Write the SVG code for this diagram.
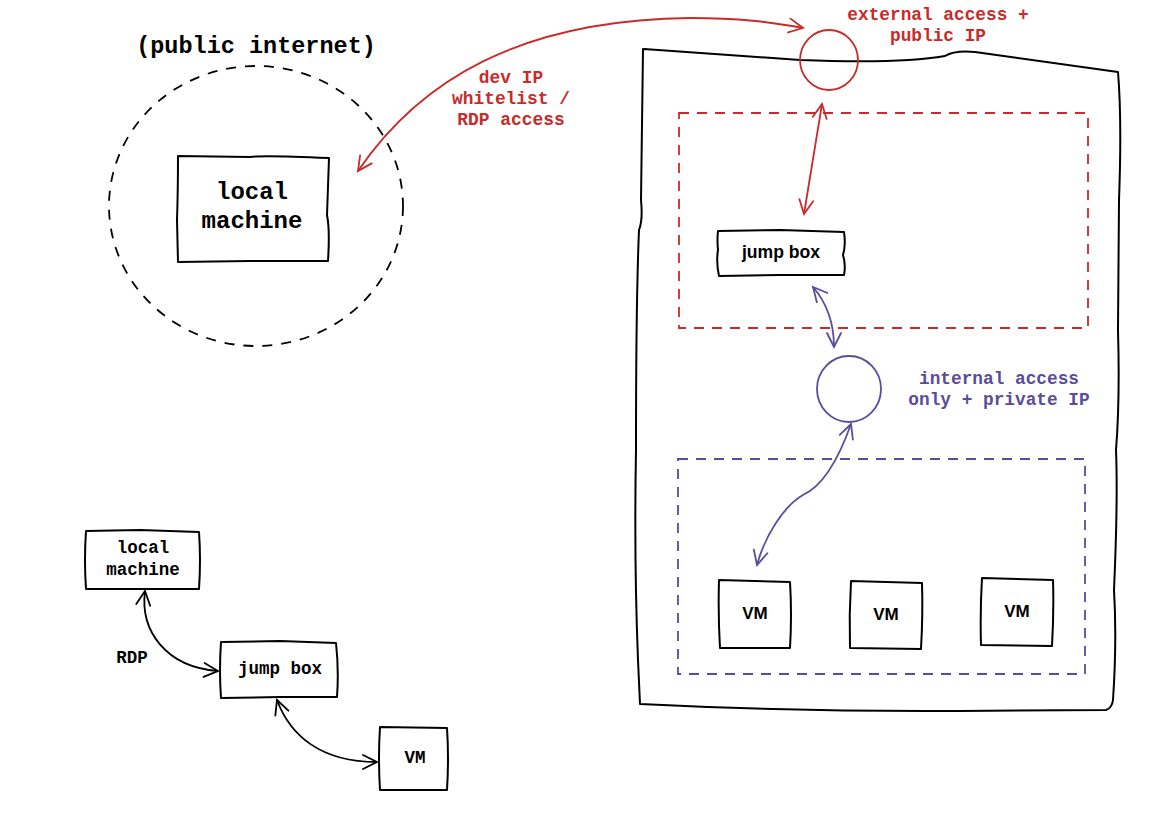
<svg xmlns="http://www.w3.org/2000/svg" width="1156" height="836" viewBox="0 0 1156 836">
<style>
.box{fill:none;stroke:#000;stroke-width:2;stroke-linejoin:round;stroke-linecap:round}
.mono{font-family:"Liberation Mono","Courier New",monospace;font-weight:bold;text-anchor:middle}
.sans{font-family:"Liberation Sans",Arial,sans-serif;font-weight:bold;text-anchor:middle;fill:#000}
.red{fill:#c92a2a}
.pur{fill:#5a4c9d}
.cred{fill:none;stroke:#c92a2a;stroke-width:1.8}
.cpur{fill:none;stroke:#5a4c9d;stroke-width:1.8}
.cblk{fill:none;stroke:#000;stroke-width:1.8}
</style>
<defs>
<marker id="mr" viewBox="0 0 20 20" refX="18" refY="10" markerWidth="20" markerHeight="20" markerUnits="userSpaceOnUse" orient="auto-start-reverse"><path d="M4,3 L18,10 L4,17" fill="none" stroke="#c92a2a" stroke-width="1.8" stroke-linecap="round"/></marker>
<marker id="mp" viewBox="0 0 20 20" refX="18" refY="10" markerWidth="20" markerHeight="20" markerUnits="userSpaceOnUse" orient="auto-start-reverse"><path d="M4,3 L18,10 L4,17" fill="none" stroke="#5a4c9d" stroke-width="1.8" stroke-linecap="round"/></marker>
<marker id="mk" viewBox="0 0 20 20" refX="18" refY="10" markerWidth="20" markerHeight="20" markerUnits="userSpaceOnUse" orient="auto-start-reverse"><path d="M4,3 L18,10 L4,17" fill="none" stroke="#000" stroke-width="1.8" stroke-linecap="round"/></marker>
</defs>
<rect width="1156" height="836" fill="#fff"/>

<g id="internet">
<ellipse cx="256" cy="206" rx="147" ry="140" fill="none" stroke="#000" stroke-width="1.8" stroke-dasharray="10 9"/>
<text class="mono" x="256" y="53" font-size="23.5">(public internet)</text>
</g>

<g id="local-machine">
<path class="box" d="M178,156 L250,157 Q262,155 329,158 L327,215 Q330,230 328,261 L250,261 L178,262 L177,220 Q178,190 178,156 Z"/>
<text class="mono" x="252" y="199" font-size="24">local</text>
<text class="mono" x="252" y="228" font-size="24">machine</text>
</g>

<g id="cloud">
<path class="box" d="M644,49 L800,60 Q900,64 945,56 Q955,50 975,52 L1118,72 Q1122,120 1119,200 L1118,330 Q1120,400 1116,450 Q1118,500 1114,590 Q1117,640 1113,700 Q1112,708 1106,710 L960,711 Q800,712 640,704 L638,660 Q634,560 636,450 Q636,300 639,230 Q643,220 641,200 L643,49 Z"/>
</g>

<g id="public-ip">
<ellipse cx="829" cy="60" rx="29" ry="30" fill="none" stroke="#c92a2a" stroke-width="1.8"/>
<text class="mono red" x="938" y="20" font-size="17.8">external access +</text>
<text class="mono red" x="938" y="41" font-size="17.8">public IP</text>
</g>

<g id="public-subnet">
<rect x="679" y="113" width="409" height="215" fill="none" stroke="#c92a2a" stroke-width="1.8" stroke-dasharray="10 8"/>
</g>

<g id="jump-box">
<path class="box" d="M718,231 L780,230 L844,232 Q846,245 843,255 Q846,265 844,275 L780,275 L719,276 Q716,262 718,250 Q717,240 718,231 Z"/>
<text class="sans" x="781" y="258" font-size="17.6">jump box</text>
</g>

<g id="private-ip">
<ellipse cx="849" cy="389" rx="32" ry="33" fill="none" stroke="#5a4c9d" stroke-width="1.8"/>
<text class="mono pur" x="999" y="384" font-size="17.8">internal access</text>
<text class="mono pur" x="999" y="405" font-size="17.8">only + private IP</text>
</g>

<g id="private-subnet">
<rect x="678" y="459" width="407" height="215" fill="none" stroke="#5a4c9d" stroke-width="1.8" stroke-dasharray="10 8"/>
</g>

<g id="vm1">
<path class="box" d="M719,580 L790,582 Q792,615 790,648 L720,648 Q718,615 719,580 Z"/>
<text class="sans" x="755" y="619" font-size="17">VM</text>
</g>
<g id="vm2">
<path class="box" d="M851,581 L922,583 Q923,615 921,649 L850,648 Q849,615 851,581 Z"/>
<text class="sans" x="886" y="620" font-size="17">VM</text>
</g>
<g id="vm3">
<path class="box" d="M982,578 L1053,580 Q1054,612 1052,646 L981,645 Q980,612 982,578 Z"/>
<text class="sans" x="1017" y="617" font-size="17">VM</text>
</g>

<g id="dev-label">
<text class="mono red" x="511" y="83" font-size="17.9">dev IP</text>
<text class="mono red" x="511" y="104" font-size="17.9">whitelist /</text>
<text class="mono red" x="511" y="125" font-size="17.9">RDP access</text>
</g>

<g id="small-local">
<path class="box" d="M86,531 L140,530 L199,532 Q201,560 199,589 L140,589 L86,589 Q84,560 86,531 Z"/>
<text class="mono" x="143" y="553" font-size="17.5">local</text>
<text class="mono" x="143" y="575" font-size="17.5">machine</text>
</g>
<g id="small-jump">
<path class="box" d="M221,642 L280,641 L336,643 Q339,670 337,697 L280,697 L221,698 Q219,670 221,642 Z"/>
<text class="mono" x="280" y="674" font-size="17.5">jump box</text>
</g>
<g id="small-vm">
<path class="box" d="M380,727 L447,728 Q449,758 447,790 L380,790 Q378,758 380,727 Z"/>
<text class="mono" x="415" y="763" font-size="17.5">VM</text>
</g>
<text class="mono" x="132" y="663" font-size="17.5">RDP</text>

<g id="connectors">
<path class="cred" d="M358,171 C420,80 520,20 690,18 C740,18 770,22 803,28" marker-start="url(#mr)" marker-end="url(#mr)"/>
<path class="cred" d="M822,104 L804,214" marker-start="url(#mr)" marker-end="url(#mr)"/>
<path class="cpur" d="M813,287 C826,302 834,322 834,347" marker-start="url(#mp)" marker-end="url(#mp)"/>
<path class="cpur" d="M851,424 C840,455 825,485 803,495 C785,505 765,535 757,565" marker-start="url(#mp)" marker-end="url(#mp)"/>
<path class="cblk" d="M145,591 C140,630 165,667 218,671" marker-start="url(#mk)" marker-end="url(#mk)"/>
<path class="cblk" d="M277,700 C290,735 320,762 377,762" marker-start="url(#mk)" marker-end="url(#mk)"/>
</g>
</svg>
